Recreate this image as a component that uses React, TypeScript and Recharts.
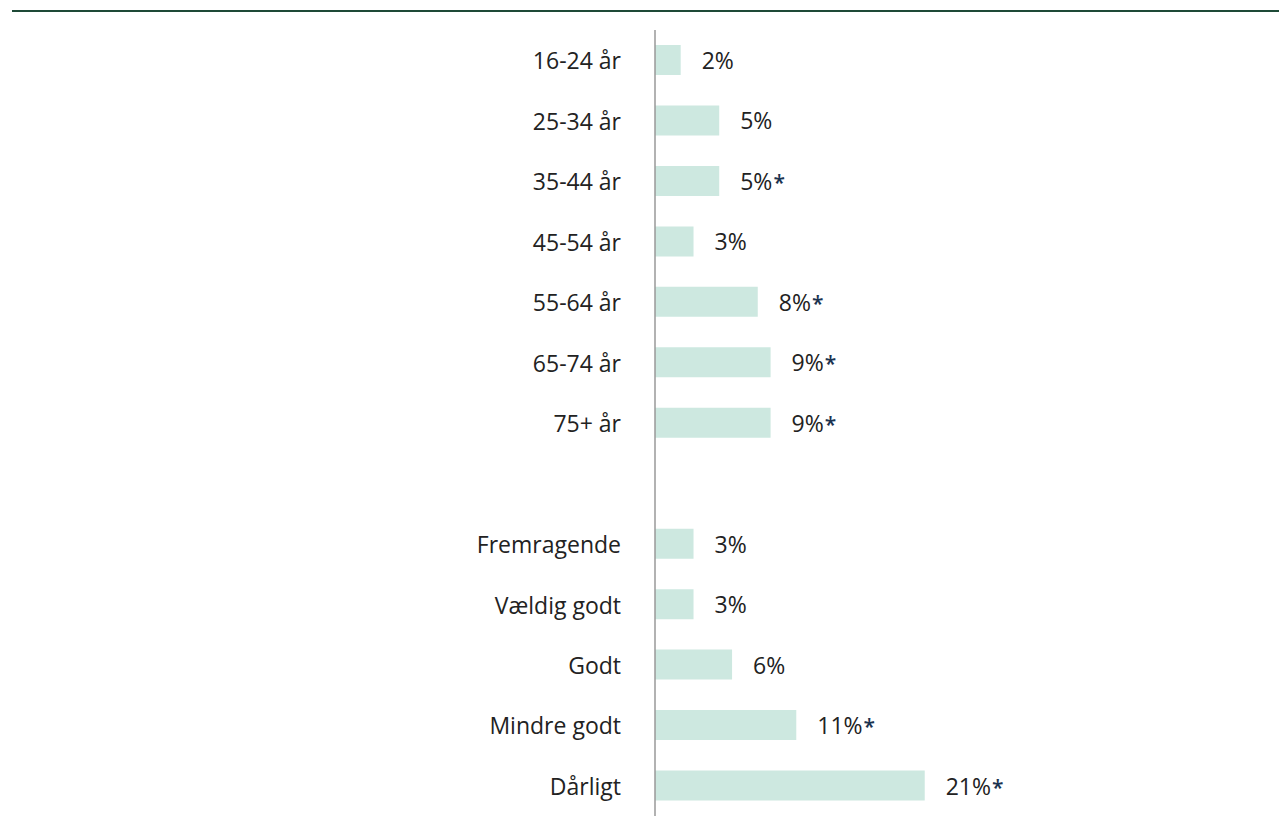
import React from 'react';
import { BarChart, Bar, XAxis, YAxis, LabelList } from 'recharts';

const categories = [
  '16-24 år', '25-34 år', '35-44 år', '45-54 år', '55-64 år', '65-74 år', '75+ år',
  '',
  'Fremragende', 'Vældig godt', 'Godt', 'Mindre godt', 'Dårligt',
];
const values: (number | null)[] = [2, 5, 5, 3, 8, 9, 9, null, 3, 3, 6, 11, 21];
const significant = [false, false, true, false, true, true, true, false, false, false, false, true, true];

const data = categories.map((name, i) => ({
  name,
  value: values[i],
  label: values[i] == null ? '' : `${values[i]}%${significant[i] ? '*' : ''}`,
}));

const FONT = '"Open Sans", "Noto Sans", sans-serif';

const ValueLabel = (props: any) => {
  const { x, y, width, height, value } = props;
  if (!value) return null;
  const str = String(value);
  const star = str.endsWith('*');
  const main = star ? str.slice(0, -1) : str;
  return (
    <text
      x={x + width + 21}
      y={y + height / 2}
      dy={9}
      fontSize={23}
      fontFamily={FONT}
      fill="#222"
    >
      {main}
      {star && (
        <tspan fill="#1b3350" fontWeight={600} fontSize={21} dx={1}>*</tspan>
      )}
    </text>
  );
};

const App: React.FC = () => {
  return (
    <div style={{ position: 'absolute', left: 0, top: 0, width: 1279, height: 834, background: '#fff' }}>
      <div style={{ position: 'absolute', left: 12, right: 0, top: 10, height: 2, background: '#1e4a37' }} />
      <div style={{ position: 'absolute', left: 0, top: 0 }}>
        <BarChart
          width={1279}
          height={834}
          data={data}
          layout="vertical"
          margin={{ top: 30, right: 46, left: 0, bottom: 18 }}
          barCategoryGap={0}
        >
          <XAxis type="number" domain={[0, 45]} hide />
          <YAxis
            type="category"
            dataKey="name"
            width={655}
            tickLine={false}
            axisLine={{ stroke: '#999', strokeWidth: 1.5 }}
            tickMargin={28}
            interval={0}
            tick={{ fontSize: 23, fontFamily: FONT, fill: '#222', dy: 1 }}
          />
          <Bar dataKey="value" fill="#cde8e0" barSize={30} isAnimationActive={false}>
            <LabelList dataKey="label" content={ValueLabel} />
          </Bar>
        </BarChart>
      </div>
    </div>
  );
};

export default App;
